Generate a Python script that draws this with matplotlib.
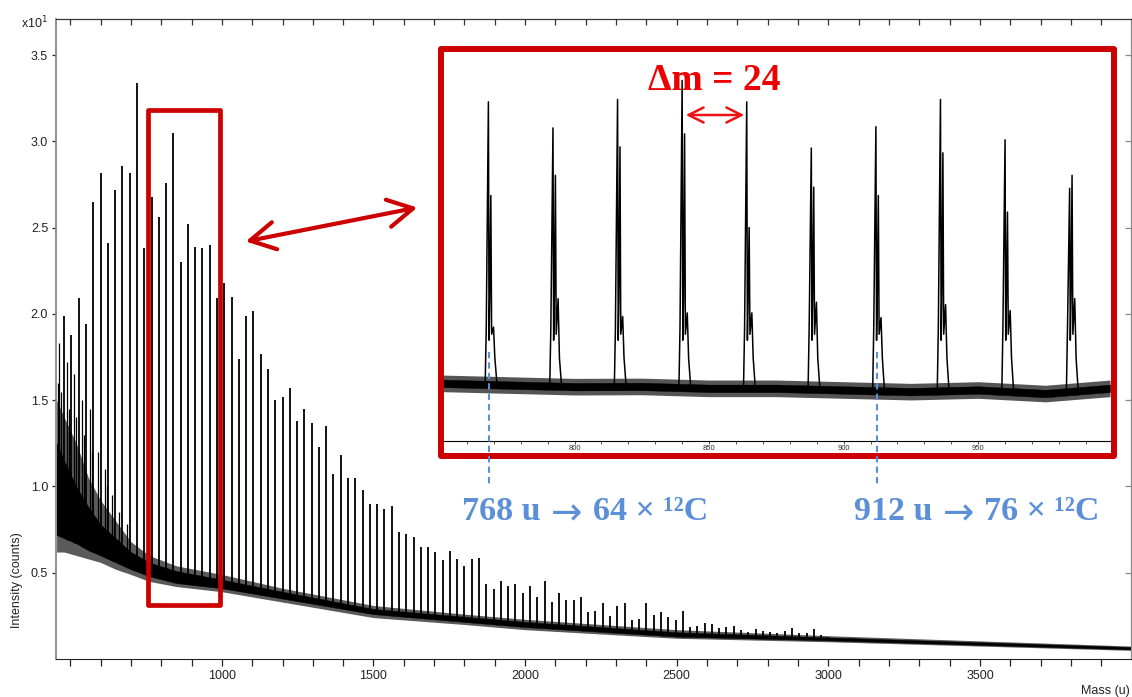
import numpy as np
import matplotlib.pyplot as plt
from matplotlib.patches import Rectangle, FancyArrowPatch
from matplotlib.lines import Line2D
from matplotlib.ticker import MultipleLocator, FixedLocator

plt.rcParams['font.family'] = ['Liberation Sans', 'DejaVu Sans']

# --- main spectrum: C(24n) cluster peaks (mass u, intensity x10 counts)
peak_mass = [480, 504, 528, 552, 576, 600, 624, 648, 672, 696, 720, 744, 768, 792, 816, 840,
             864, 888, 912, 936, 960, 984, 1008, 1032, 1056, 1080, 1104, 1128, 1152, 1176, 1200,
             1224, 1248, 1272, 1296, 1320, 1344, 1368, 1392, 1416, 1440, 1464, 1488, 1512, 1536,
             1560, 1584, 1608, 1632, 1656, 1680, 1704, 1728, 1752, 1776, 1800, 1824, 1848, 1872,
             1896, 1920, 1944, 1968, 1992, 2016, 2040, 2064, 2088, 2112, 2136, 2160, 2184, 2208,
             2232, 2256, 2280, 2304, 2328, 2352, 2376, 2400, 2424, 2448, 2472, 2496, 2520, 2544,
             2568, 2592, 2616, 2640, 2664, 2688, 2712, 2736, 2760, 2784, 2808, 2832, 2856, 2880,
             2904, 2928, 2952, 2976, 3000]
peak_height = [1.99, 1.88, 2.09, 1.94, 2.65, 2.82, 2.41, 2.72, 2.86, 2.82, 3.34, 2.38, 2.68, 2.56, 2.76, 3.05,
               2.30, 2.52, 2.39, 2.38, 2.40, 2.09, 2.18, 2.10, 1.74, 1.99, 2.02, 1.77, 1.68, 1.50, 1.52,
               1.57, 1.38, 1.45, 1.37, 1.23, 1.35, 1.07, 1.18, 1.05, 1.05, 0.98, 0.90, 0.90, 0.87,
               0.885, 0.735, 0.725, 0.71, 0.65, 0.65, 0.62, 0.576, 0.628, 0.582, 0.54, 0.58, 0.584, 0.434,
               0.405, 0.453, 0.422, 0.435, 0.383, 0.422, 0.362, 0.45, 0.333, 0.383, 0.342, 0.344, 0.36, 0.275,
               0.281, 0.324, 0.251, 0.31, 0.324, 0.227, 0.23, 0.324, 0.255, 0.275, 0.242, 0.227, 0.277, 0.188,
               0.194, 0.207, 0.203, 0.178, 0.184, 0.194, 0.17, 0.155, 0.174, 0.165, 0.155, 0.151, 0.16, 0.18,
               0.15, 0.15, 0.174, 0.14, 0.13]

# smaller in-between peaks in the low mass forest
sub_mass = [458, 462, 468, 490, 496, 514, 520, 540, 546, 566, 572, 590, 614, 620, 638, 662, 686]
sub_height = [1.60, 1.83, 1.55, 1.72, 1.45, 1.65, 1.40, 1.50, 1.30, 1.45, 1.20, 1.20, 1.10, 1.00, 0.95, 0.85, 0.78]

# noise band of the continuum: dense core and outer fuzz
base_mass = [455, 480, 520, 560, 600, 650, 700, 760, 850, 1000, 1200, 1500, 1800, 2000, 2500, 3000, 3500, 4000]
base_low = [0.62, 0.62, 0.60, 0.58, 0.56, 0.52, 0.49, 0.45, 0.42, 0.39, 0.33, 0.24, 0.20, 0.17, 0.12, 0.10, 0.075, 0.05]
core_low = [0.72, 0.70, 0.67, 0.63, 0.60, 0.56, 0.52, 0.48, 0.44, 0.41, 0.35, 0.26, 0.215, 0.185, 0.13, 0.108, 0.082, 0.056]
core_high = [1.25, 1.15, 1.00, 0.88, 0.78, 0.70, 0.62, 0.56, 0.51, 0.46, 0.39, 0.29, 0.245, 0.215, 0.155, 0.125, 0.097, 0.069]
base_high = [1.50, 1.40, 1.25, 1.05, 0.92, 0.80, 0.68, 0.60, 0.54, 0.49, 0.41, 0.31, 0.26, 0.23, 0.17, 0.135, 0.105, 0.075]

# --- inset (zoom 752-999 u)
inset_mass = [768, 792, 816, 840, 864, 888, 912, 936, 960, 984]
inset_h0 = [2.86, 2.64, 2.88, 3.04, 2.86, 2.47, 2.65, 2.88, 2.54, 2.13]
inset_h1 = [2.07, 2.24, 2.48, 2.59, 1.80, 2.14, 2.07, 2.43, 1.93, 2.24]
inset_h2 = [0.96, 1.20, 1.05, 1.08, 1.08, 1.17, 1.04, 1.15, 1.10, 1.20]
inset_base_mass = [751, 775, 800, 825, 850, 875, 900, 925, 950, 975, 999]
inset_base_mid = [0.486, 0.472, 0.458, 0.46, 0.444, 0.444, 0.43, 0.416, 0.43, 0.40, 0.444]
inset_noise = [0.07, 0.07, 0.07, 0.07, 0.07, 0.07, 0.07, 0.07, 0.07, 0.07, 0.07]

W, H = 1132, 697
fig = plt.figure(figsize=(W / 100, H / 100), dpi=100)

def fx(px):
    return px / W

def fy(py):
    return 1 - py / H

"""
Hovedplot
"""
ax = fig.add_axes([fx(56), fy(659), fx(1131) - fx(56), fy(19) - fy(659)])
ax.fill_between(base_mass, base_low, base_high, color='#5a5a5a', lw=0)
ax.fill_between(base_mass, core_low, core_high, color='black', lw=0.3)
ax.vlines(peak_mass, np.interp(peak_mass, base_mass, core_low), peak_height, color='black', lw=1.3)
ax.vlines(sub_mass, np.interp(sub_mass, base_mass, core_low), sub_height, color='black', lw=0.9)

ax.set_xlim(453, 3998)
ax.set_ylim(0, 3.71)
ax.xaxis.set_major_locator(FixedLocator([1000, 1500, 2000, 2500, 3000, 3500]))
ax.xaxis.set_minor_locator(MultipleLocator(100))
ax.yaxis.set_major_locator(FixedLocator([0.5, 1.0, 1.5, 2.0, 2.5, 3.0, 3.5]))
ax.set_yticklabels(['0.5', '1.0', '1.5', '2.0', '2.5', '3.0', '3.5'])
ax.tick_params(axis='x', which='both', direction='out', length=5, width=0.9, labelsize=9, pad=3, colors='#222222')
ax.tick_params(axis='y', which='both', direction='out', length=3.2, width=0.9, labelsize=9, pad=2.5, colors='#222222')

top = ax.secondary_xaxis('top')
top.xaxis.set_major_locator(MultipleLocator(100))
top.tick_params(direction='in', length=4.5, width=0.9, labeltop=False, colors='#333333')
top.spines['top'].set_color('#333333')
right = ax.secondary_yaxis('right')
right.yaxis.set_major_locator(FixedLocator([0.5, 1.0, 1.5, 2.0, 2.5, 3.0, 3.5]))
right.tick_params(direction='in', length=4, width=0.9, labelright=False, colors='#888888')
right.spines['right'].set_color('#888888')

ax.spines['left'].set_color('#888888')
ax.spines['left'].set_linewidth(1.3)
ax.spines['right'].set_color('#888888')
ax.spines['bottom'].set_color('#222222')
ax.spines['top'].set_color('#333333')

fig.text(fx(35), fy(23), r'x10$^{1}$', fontsize=9, ha='center', va='center', color='#222222')
fig.text(fx(17), fy(580), 'Intensity (counts)', fontsize=9, rotation=90, ha='center', va='center', color='#222222')
fig.text(fx(1130), fy(691), 'Mass (u)', fontsize=9, ha='right', va='center', color='#222222')

# rød boks om udsnittet
ax.add_patch(Rectangle((758, 0.315), 994.4 - 758, 3.182 - 0.315, fill=False, ec='#cc0000',
                       lw=3.4, joinstyle='round', zorder=6))

"""
Indsat udsnit
"""
axin = fig.add_axes([fx(444), fy(441), fx(1110) - fx(444), fy(52) - fy(441)])
axin.set_facecolor('white')
mid = np.array(inset_base_mid)
nz = np.array(inset_noise)
axin.fill_between(inset_base_mass, mid - nz, mid + nz, color='#555555', lw=0)
axin.fill_between(inset_base_mass, mid - 0.45 * nz, mid + 0.45 * nz, color='black', lw=0.3)
for m, a, b, c in zip(inset_mass, inset_h0, inset_h1, inset_h2):
    base = np.interp(m, inset_base_mass, inset_base_mid)
    xs = [m - 1.2, m - 0.8, m, m + 0.25, m + 0.5, m + 0.9, m + 1.2, m + 1.9, m + 2.4, m + 3.2]
    ys = [base, 0.95, a, 0.85, 1.2, b, 0.9, c, 0.7, base]
    axin.plot(xs, ys, color='black', lw=1.1)
axin.set_xlim(751.5, 999)
axin.set_ylim(0, 3.28)
for s in ['left', 'right', 'top']:
    axin.spines[s].set_visible(False)
axin.spines['bottom'].set_linewidth(0.8)
axin.set_yticks([])
axin.xaxis.set_major_locator(FixedLocator([800, 850, 900, 950]))
axin.xaxis.set_minor_locator(MultipleLocator(10))
axin.tick_params(axis='x', which='both', direction='out', length=2, width=0.6, labelsize=5.5, pad=1,
                 colors='#333333')

# rød ramme om indsat
fig.add_artist(Rectangle((fx(441), fy(456)), fx(1113.5) - fx(441), fy(49) - fy(456), transform=fig.transFigure,
                         fill=False, ec='#cc0000', lw=4.3, joinstyle='round', zorder=10))

# dobbeltpil mellem boks og indsat
fig.add_artist(FancyArrowPatch((fx(243), fy(242)), (fx(420), fy(207)), transform=fig.transFigure,
                               arrowstyle='<->,head_length=1.0,head_width=0.55', mutation_scale=18,
                               color='#cc0000', lw=3.0, zorder=10))

# Delta m
fig.text(fx(714), fy(90), 'Δm = 24', fontsize=27, fontweight='bold', color='#ee0000',
         family=['Liberation Serif', 'DejaVu Serif'], ha='center', va='baseline', zorder=12)
fig.add_artist(FancyArrowPatch((fx(683), fy(115)), (fx(747), fy(115)), transform=fig.transFigure,
                               arrowstyle='<->,head_length=1.2,head_width=0.6', mutation_scale=9,
                               color='#ee1111', lw=1.8, zorder=12))

# blå markeringer
blue = '#5b8fd7'
serif = ['Liberation Serif', 'DejaVu Serif']
for px in [489, 876.5]:
    fig.add_artist(Line2D([fx(px), fx(px)], [fy(352), fy(485)], transform=fig.transFigure,
                          color=blue, lw=1.5, linestyle=(0, (3, 2)), zorder=11))
labels = [(462, '768 u', 566.5, 593, '64 × ¹²C'), (854, '912 u', 958.5, 984, '76 × ¹²C')]
for x1, t1, xa, x2, t2 in labels:
    fig.text(fx(x1), fy(520), t1, fontsize=24.5, fontweight='bold', color=blue, family=serif,
             ha='left', va='baseline')
    fig.text(fx(xa), fy(524), '→', fontsize=27, color=blue, family=['DejaVu Sans'],
             ha='center', va='baseline')
    fig.text(fx(x2), fy(520), t2, fontsize=24.5, fontweight='bold', color=blue, family=serif,
             ha='left', va='baseline')

plt.savefig('out.png', dpi=100)
